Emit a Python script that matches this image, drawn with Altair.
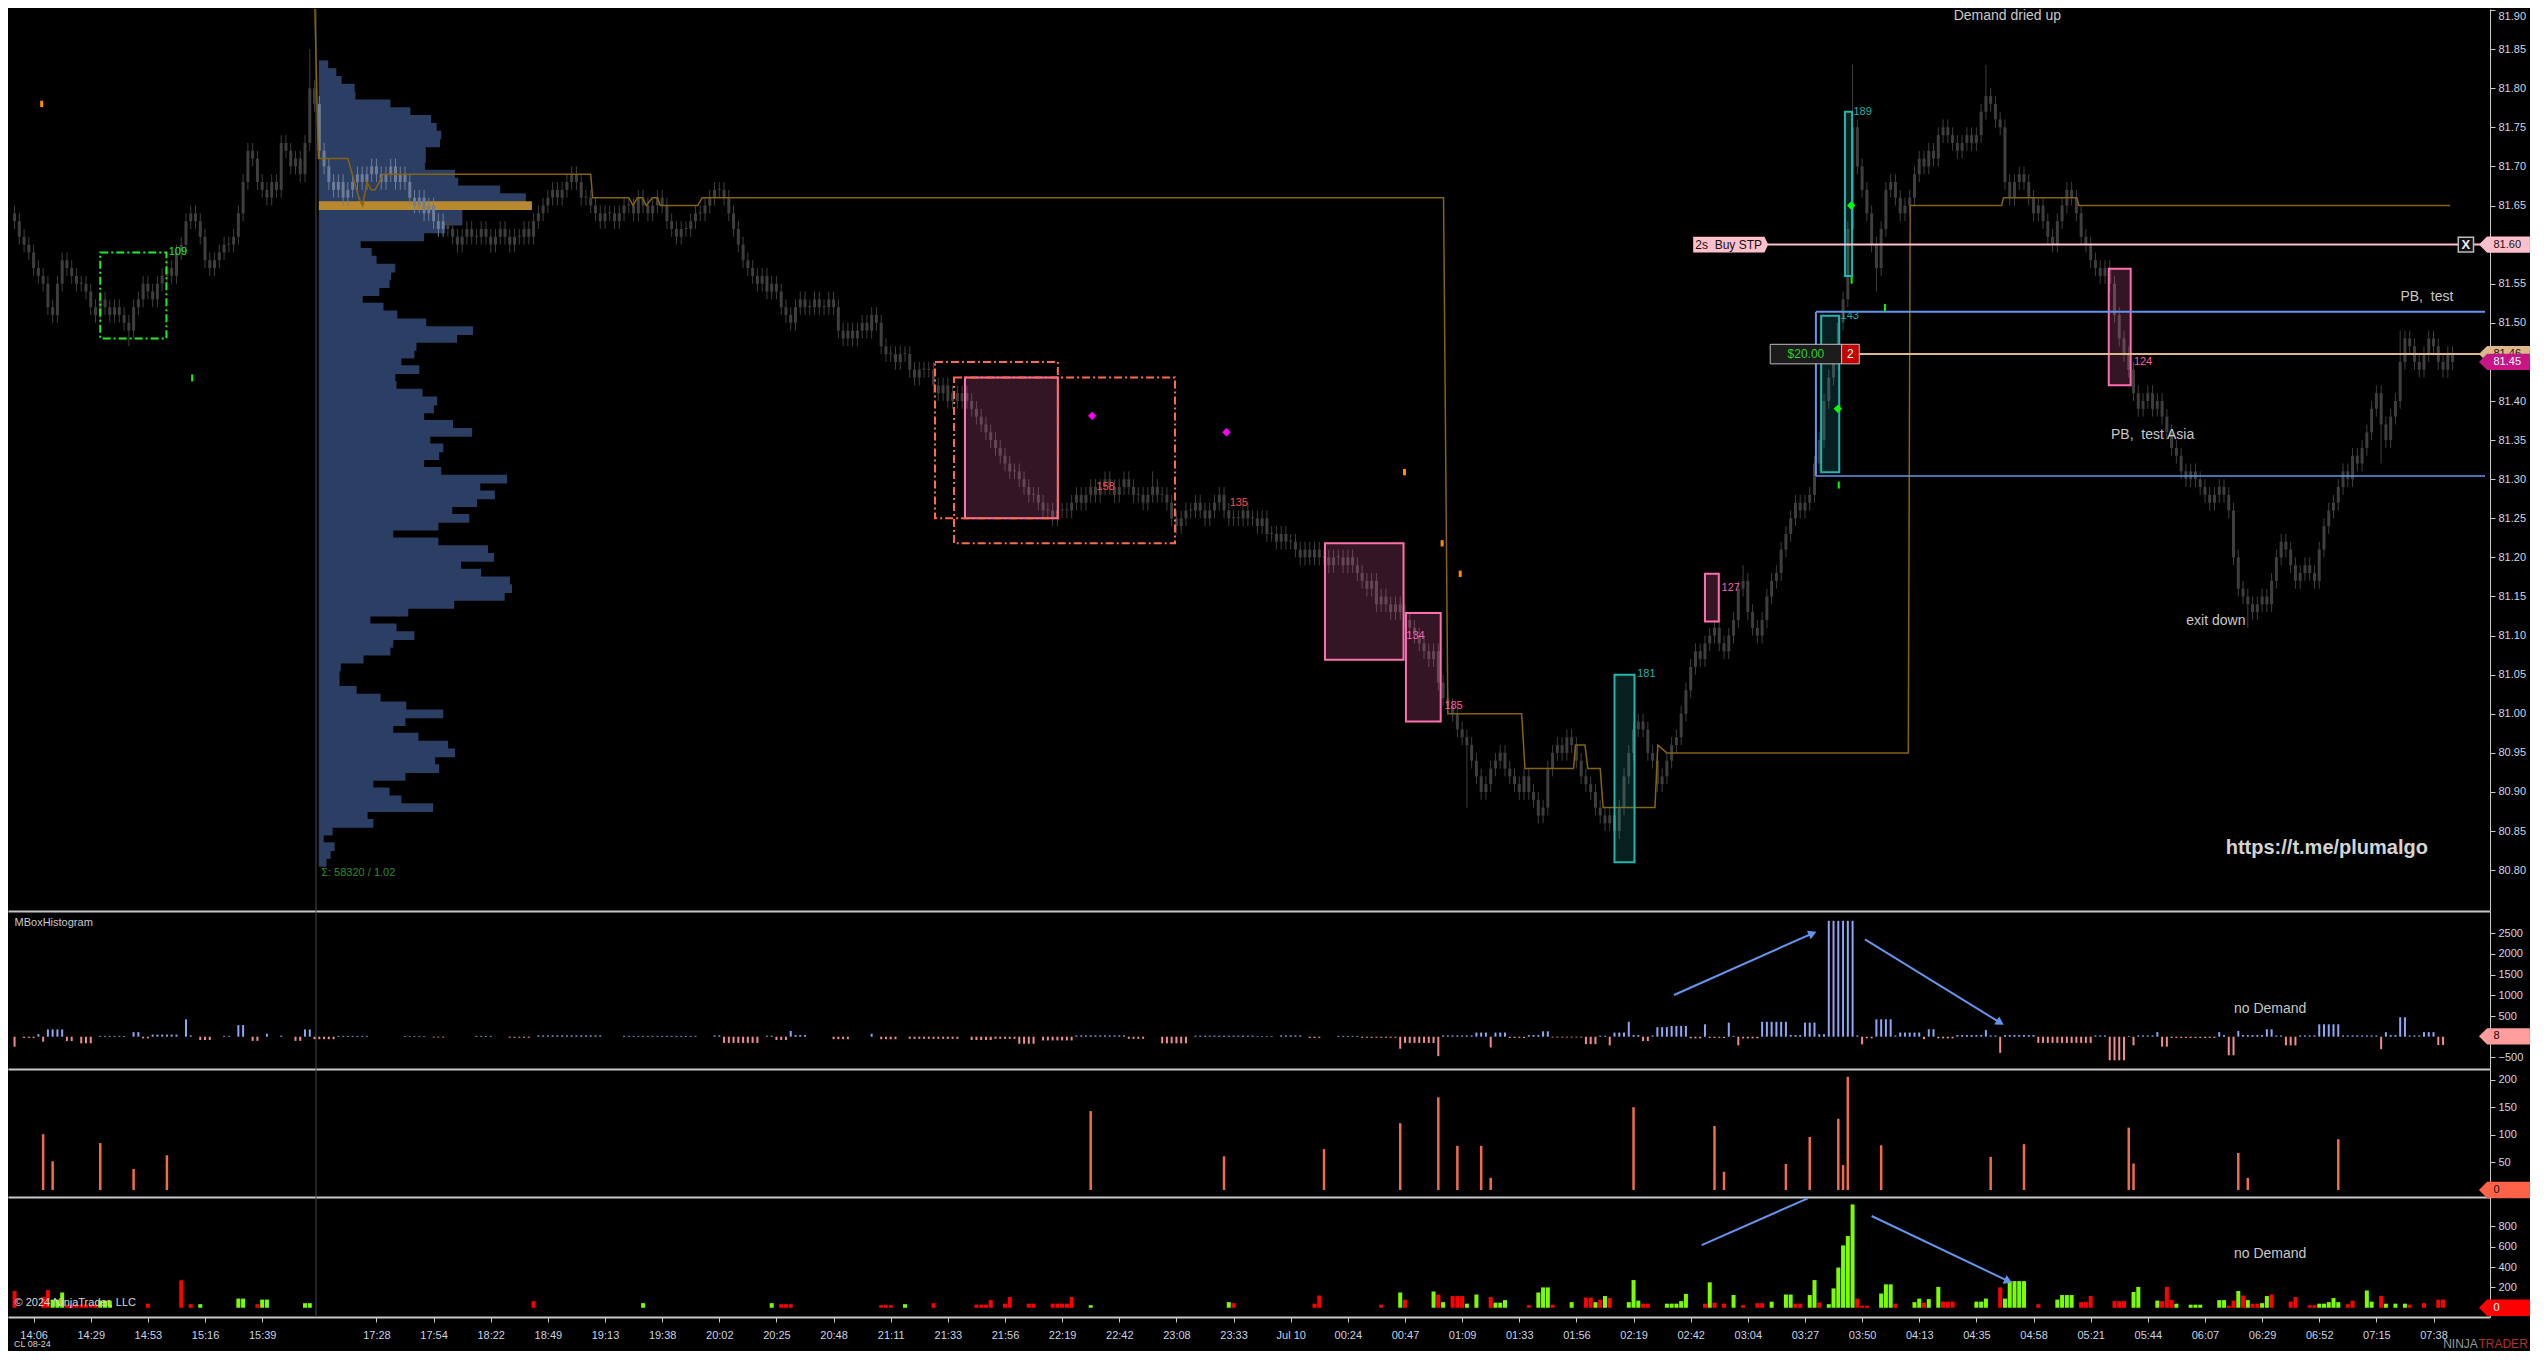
import math
import altair as alt
import pandas as pd

# ======================= DATA =======================
FIRST_BAR = 2  # bar index of the first candle
# closing prices in cents (8163 = 81.63), one per bar
closes = [
 8163, 8161, 8160, 8159, 8157, 8156, 8155, 8152,
 8151, 8155, 8158, 8157, 8156, 8155, 8155, 8154, 8152, 8151,
 8153, 8152, 8151, 8152, 8151, 8150, 8149, 8152, 8153, 8155,
 8154, 8153, 8155, 8156, 8157, 8156, 8159, 8160, 8163, 8164,
 8163, 8161, 8158, 8157, 8158, 8159, 8160, 8160, 8161, 8164,
 8168, 8172, 8171, 8168, 8167, 8166, 8168, 8167, 8173, 8172,
 8170, 8171, 8169, 8173, 8180, 8178, 8172, 8170, 8168, 8167,
 8168, 8166, 8167, 8168, 8169, 8168, 8169, 8170, 8169, 8168,
 8169, 8170, 8168, 8169, 8168, 8166, 8165, 8166, 8164, 8165,
 8163, 8162, 8163, 8162, 8161, 8160, 8161, 8162, 8161, 8161,
 8162, 8161, 8160, 8161, 8162, 8161, 8160, 8161, 8161, 8162,
 8161, 8163, 8164, 8165, 8166, 8167, 8166, 8167, 8168, 8169,
 8168, 8166, 8166, 8165, 8164, 8163, 8164, 8164, 8163, 8164,
 8165, 8165, 8164, 8166, 8165, 8164, 8165, 8166, 8165, 8163,
 8162, 8161, 8162, 8162, 8163, 8164, 8164, 8165, 8166, 8167,
 8167, 8166, 8164, 8162, 8160, 8158, 8157, 8156, 8155, 8156,
 8154, 8155, 8154, 8152, 8151, 8150, 8152, 8153, 8152, 8152,
 8153, 8152, 8152, 8153, 8152, 8149, 8148, 8149, 8148, 8149,
 8150, 8149, 8151, 8150, 8147, 8146, 8146, 8145, 8146, 8146,
 8144, 8143, 8144, 8144, 8144, 8142, 8141, 8142, 8140, 8141,
 8140, 8141, 8140, 8139, 8138, 8137, 8136, 8135, 8134, 8133,
 8132, 8131, 8131, 8130, 8129, 8128, 8128, 8127, 8126, 8126,
 8125, 8126, 8126, 8126, 8127, 8128, 8127, 8128, 8129, 8128,
 8129, 8130, 8129, 8128, 8129, 8130, 8129, 8128, 8128, 8127,
 8128, 8129, 8128, 8128, 8127, 8125, 8124, 8125, 8126, 8126,
 8127, 8126, 8125, 8126, 8127, 8128, 8126, 8125, 8125, 8125,
 8126, 8125, 8125, 8124, 8125, 8123, 8123, 8122, 8123, 8122,
 8122, 8121, 8120, 8121, 8120, 8121, 8120, 8120, 8119, 8120,
 8120, 8119, 8120, 8119, 8118, 8117, 8116, 8117, 8114, 8115,
 8114, 8113, 8114, 8113, 8112, 8111, 8110, 8109, 8108, 8107,
 8108, 8104, 8102, 8101, 8100, 8098, 8097, 8096, 8094, 8092,
 8090, 8091, 8093, 8094, 8095, 8093, 8092, 8091, 8090, 8092,
 8090, 8089, 8087, 8088, 8093, 8095, 8096, 8095, 8097, 8096,
 8094, 8092, 8091, 8090, 8088, 8087, 8086, 8087, 8085, 8088,
 8092, 8095, 8098, 8099, 8098, 8095, 8094, 8091, 8092, 8094,
 8096, 8097, 8100, 8103, 8106, 8108, 8107, 8109, 8110, 8111,
 8109, 8108, 8110, 8112, 8116, 8117, 8113, 8111, 8110, 8112,
 8115, 8117, 8118, 8121, 8123, 8125, 8127, 8126, 8127, 8128,
 8132, 8135, 8140, 8143, 8145, 8150, 8153, 8162, 8175, 8170,
 8167, 8164, 8160, 8157, 8162, 8167, 8168, 8166, 8164, 8165,
 8166, 8169, 8171, 8170, 8172, 8171, 8174, 8175, 8174, 8173,
 8172, 8173, 8174, 8173, 8174, 8177, 8179, 8178, 8176, 8175,
 8168, 8166, 8168, 8169, 8168, 8166, 8164, 8165, 8163, 8161,
 8160, 8163, 8165, 8167, 8166, 8164, 8161, 8160, 8158, 8157,
 8156, 8157, 8155, 8151, 8148, 8146, 8144, 8141, 8139, 8140,
 8141, 8139, 8140, 8138, 8136, 8134, 8133, 8131, 8130, 8131,
 8130, 8129, 8128, 8127, 8128, 8129, 8128, 8126, 8120, 8116,
 8115, 8114, 8113, 8114, 8115, 8114, 8117, 8120, 8122, 8121,
 8119, 8117, 8118, 8119, 8118, 8117, 8121, 8124, 8126, 8127,
 8129, 8131, 8130, 8133, 8132, 8134, 8136, 8139, 8141, 8137,
 8135, 8138, 8140, 8145, 8148, 8147, 8145, 8144, 8146, 8148,
 8147, 8145, 8144, 8146, 8145,
]
spike_highs = {64: 8185, 241: 8131, 365: 8119, 388: 8183, 416: 8183, 503: 8149}
spike_lows = {26: 8147, 307: 8088, 338: 8083, 393: 8154, 471: 8111, 499: 8132}

tick_bars = [6, 18, 30, 42, 54, 78, 90, 102, 114, 126, 138, 150, 162, 174, 186, 198,
             210, 222, 234, 246, 258, 270, 282, 294, 306, 318, 330, 342, 354, 366, 378,
             390, 402, 414, 426, 438, 450, 462, 474, 486, 498, 510]
tick_labels = ["14:06", "14:29", "14:53", "15:16", "15:39", "17:28", "17:54", "18:22",
               "18:49", "19:13", "19:38", "20:02", "20:25", "20:48", "21:11", "21:33",
               "21:56", "22:19", "22:42", "23:08", "23:33", "Jul 10", "00:24", "00:47",
               "01:09", "01:33", "01:56", "02:19", "02:42", "03:04", "03:27", "03:50",
               "04:13", "04:35", "04:58", "05:21", "05:44", "06:07", "06:29", "06:52",
               "07:15", "07:38"]
price_ticks = [80.80, 80.85, 80.90, 80.95, 81.00, 81.05, 81.10, 81.15, 81.20, 81.25, 81.30,
               81.35, 81.40, 81.45, 81.50, 81.55, 81.60, 81.65, 81.70, 81.75, 81.80, 81.85, 81.90]
mbox_ticks = [-500, 500, 1000, 1500, 2000, 2500]
p3_ticks = [50, 100, 150, 200]
vol_ticks = [200, 400, 600, 800]

# volume profile: top level (cents) and volume per 1-cent level going down
profile_top = 8183
profile_vol = [23, 43, 56, 88, 90, 176, 225, 276, 290, 301, 298, 263, 263, 261, 335, 343,
               446, 509, 524, 353, 353, 311, 259, 103, 130, 142, 188, 178, 174, 149, 108,
               159, 193, 264, 379, 340, 240, 235, 203, 247, 188, 191, 255, 291, 283, 259,
               330, 377, 274, 306, 296, 259, 301, 463, 397, 433, 389, 328, 370, 294, 183,
               294, 416, 431, 350, 399, 470, 475, 457, 333, 220, 127, 191, 235, 183, 176,
               110, 54, 51, 51, 93, 152, 215, 306, 213, 183, 245, 318, 335, 286, 296, 213,
               134, 174, 203, 281, 120, 134, 34, 12, 39, 29, 19]
poc_level = 8165
profile_start = 65.9
session_bar = 65.3

# step line (bar, cents)
vwap_i = [65.0, 65.8, 72.0, 74.3, 75.1, 76.0, 76.9, 77.7, 78.6, 79.4, 123.0, 123.4, 131.0,
          131.9, 132.8, 133.8, 134.7, 135.9, 137.0, 137.6, 145.5, 146.4, 302.1, 303.0,
          318.5, 319.2, 329.4, 329.8, 331.8, 332.4, 335.0, 335.6, 346.5, 347.1, 349.0,
          399.7, 400.1, 419.3, 419.7, 435.1, 435.5, 513.5]
vwap_c = [8192, 8171, 8171, 8166, 8165, 8168, 8167, 8167, 8168, 8169, 8169, 8166, 8166,
          8165, 8166, 8166, 8165, 8166, 8166, 8165, 8165, 8166, 8166, 8100, 8100, 8093,
          8093, 8096, 8096, 8093, 8093, 8088, 8088, 8096, 8095, 8095, 8165, 8165, 8166,
          8166, 8165, 8165]

# boxes: (bar from, bar to, low cents, high cents)
green_boxes = [(20.0, 33.9, 8148.0, 8159.0)]
orange_boxes = [(195.3, 221.1, 8125.0, 8145.0), (199.3, 245.7, 8121.8, 8143.0)]
pink_boxes = [(201.6, 221.1, 8125.0, 8143.0), (277.2, 293.7, 8106.9, 8121.8),
              (294.2, 301.5, 8099.0, 8112.9), (357.0, 359.9, 8111.8, 8117.9),
              (441.8, 446.4, 8142.0, 8156.9)]
teal_boxes = [(338.0, 342.2, 8081.0, 8105.0), (381.4, 385.2, 8130.9, 8150.9),
              (386.4, 387.9, 8156.0, 8177.0)]
blue_range = (380.3, 8130.4, 8151.4)  # start bar, low, high

box_label_text = ["109", "158", "135", "134", "185", "127", "181", "143", "189", "124"]
box_label_bar = [36.3, 231.1, 259.1, 296.2, 304.2, 362.4, 344.7, 387.4, 390.1, 449.0]
box_label_c = [8159.0, 8129.0, 8127.0, 8110.0, 8101.0, 8116.1, 8105.1, 8150.9, 8177.0, 8145.0]
box_label_col = ["#22ee22", "#ff4a4a", "#ff4a4a", "#ff5fa8", "#ff5fa8", "#ff5fa8",
                 "#20b2aa", "#20b2aa", "#20b2aa", "#ff5fa8"]

mag_diamonds = [(228.3, 8138.1), (256.5, 8136.0)]
green_diamonds = [(387.7, 8165.0), (384.9, 8139.0)]
green_ticks = [(39.3, 8142.5), (387.8, 8155.0), (385.1, 8128.8), (394.8, 8151.5)]
orange_ticks = [(7.7, 8177.6), (293.9, 8130.5), (301.8, 8121.4), (305.6, 8117.5)]

order_stop_c = 8160.0      # "2s Buy STP"
order_stop_bar = 362.4
position_c = 8146.0        # entry line
position_bar = 378.2
close_box_bar = 516.8

notes = [("PB,\u00a0 test Asia", 451.0, 8135.6), ("PB,\u00a0 test", 508.6, 8153.3),
         ("exit down", 464.3, 8111.9)]

# MBoxHistogram runs: (first bar, last bar, value)
mbox_runs = [
 (2, 2, -240), (4, 6, -30), (7, 7, 60), (8, 8, -120), (9, 12, 175), (13, 14, -105),
 (16, 18, -160), (20, 25, 20), (27, 28, 110), (29, 30, -40), (31, 36, 50), (38, 38, 420),
 (39, 39, 30), (41, 43, -80), (46, 47, 20), (49, 50, 280), (52, 53, -100), (55, 55, 70),
 (58, 58, 25), (61, 62, -100), (63, 64, 175), (65, 69, -60), (70, 76, 20), (84, 88, 15),
 (90, 92, -20), (99, 102, 20), (106, 110, -25), (112, 125, 30), (130, 145, 20),
 (149, 150, 30), (151, 158, -150), (160, 161, 25), (162, 164, -80), (165, 165, 140),
 (166, 168, 40), (174, 177, -60), (182, 182, 70), (184, 187, -60), (190, 200, -50),
 (203, 207, -80), (208, 212, -50), (213, 216, -170), (218, 224, -90), (225, 235, 30),
 (236, 239, -50), (243, 248, -160), (250, 262, 25), (263, 266, 15), (268, 272, 30),
 (274, 276, -30), (280, 284, 20), (285, 292, -25), (293, 293, -290), (294, 300, -150),
 (301, 301, -470), (302, 308, 30), (309, 311, 100), (312, 312, -260), (313, 315, 100),
 (316, 319, -30), (320, 322, 40), (323, 324, 130), (325, 331, -20), (332, 334, -180),
 (335, 336, 25), (337, 337, -210), (338, 340, 100), (341, 341, 360), (342, 343, 40),
 (344, 345, -105), (346, 346, 30), (347, 349, 230), (350, 353, 260), (354, 356, -40),
 (357, 357, 300), (358, 361, -30), (362, 362, 340), (363, 363, 20), (364, 364, -210),
 (365, 368, -40), (369, 374, 360), (375, 377, 40), (378, 380, 340), (381, 382, 60),
 (383, 388, 2800), (389, 389, 30), (390, 390, -185), (391, 392, -40), (393, 396, 420),
 (397, 397, 30), (398, 402, 100), (403, 403, -60), (404, 405, 180), (406, 409, -40),
 (410, 415, 40), (416, 416, 160), (417, 418, 30), (419, 419, -390), (420, 426, 40),
 (427, 438, -150), (439, 441, 30), (442, 445, -570), (446, 446, 20), (447, 447, -210),
 (448, 451, 30), (452, 452, 110), (453, 454, -240), (455, 464, -30), (465, 465, 110),
 (466, 466, 40), (467, 468, -450), (469, 469, 140), (470, 474, 40), (475, 476, 180),
 (477, 478, 30), (479, 481, -210), (482, 485, 30), (486, 490, 300), (491, 498, 30),
 (499, 499, -300), (500, 500, 110), (501, 502, 40), (503, 504, 470), (505, 507, 30),
 (508, 510, 110), (511, 512, -200),
]

# third panel: (bar, value)
p3_bar = [8, 10, 20, 27, 34, 228, 256, 277, 293, 301, 305, 310, 312, 342, 359, 361, 374,
          379, 385, 386, 387, 394, 417, 424, 446, 447, 469, 471, 490]
p3_val = [101, 52, 85, 38, 63, 143, 61, 74, 121, 168, 80, 80, 22, 150, 116, 33, 47, 96,
          129, 45, 205, 81, 60, 83, 113, 48, 67, 22, 92]

# volume panel runs: (first bar, last bar, value, up?)
vol_runs = [
 (2, 2, 164, 0), (8, 8, 105, 0), (9, 9, 173, 0), (10, 11, 80, 1), (12, 12, 150, 1),
 (13, 19, 30, 0), (20, 22, 70, 1), (30, 30, 40, 0), (37, 37, 270, 0), (39, 39, 35, 0),
 (41, 41, 35, 1), (49, 50, 90, 1), (53, 53, 35, 0), (54, 55, 80, 1), (63, 64, 45, 1),
 (111, 111, 65, 0), (134, 134, 45, 1), (161, 161, 45, 1), (163, 165, 35, 0),
 (184, 186, 25, 0), (189, 189, 35, 1), (195, 195, 45, 0), (204, 206, 30, 0),
 (207, 207, 75, 0), (210, 210, 40, 0), (211, 211, 105, 0), (215, 216, 40, 0),
 (220, 223, 40, 0), (224, 224, 105, 0), (228, 228, 25, 1), (257, 257, 55, 1),
 (258, 258, 45, 0), (275, 275, 40, 0), (276, 276, 120, 0), (289, 289, 30, 0),
 (293, 293, 150, 1), (294, 294, 80, 0), (300, 300, 160, 1), (301, 301, 130, 0),
 (302, 302, 55, 1), (304, 306, 115, 0), (307, 307, 40, 1), (309, 309, 130, 1),
 (312, 312, 105, 0), (313, 314, 50, 1), (315, 315, 75, 1), (320, 320, 25, 0),
 (322, 322, 150, 1), (323, 324, 200, 1), (325, 325, 30, 0), (329, 329, 55, 1),
 (332, 333, 100, 0), (334, 334, 55, 1), (335, 335, 80, 0), (336, 336, 115, 1),
 (337, 337, 95, 0), (341, 341, 55, 1), (342, 342, 272, 1), (343, 343, 70, 1),
 (344, 345, 40, 0), (349, 351, 40, 1), (352, 352, 65, 1), (353, 353, 135, 1),
 (357, 357, 40, 0), (358, 358, 250, 1), (359, 359, 50, 0), (361, 361, 40, 0),
 (363, 363, 125, 1), (365, 365, 25, 0), (368, 369, 45, 0), (371, 371, 60, 1),
 (374, 375, 130, 1), (376, 377, 40, 0), (379, 379, 125, 1), (380, 380, 272, 1),
 (381, 381, 50, 0), (383, 383, 35, 1), (384, 384, 190, 1), (385, 385, 395, 1),
 (386, 386, 613, 1), (387, 387, 705, 1), (388, 388, 1016, 1), (389, 389, 90, 0),
 (390, 391, 20, 0), (394, 394, 140, 1), (395, 396, 230, 1), (397, 397, 40, 0),
 (401, 401, 55, 1), (402, 402, 90, 1), (403, 403, 50, 0), (404, 404, 85, 1),
 (406, 406, 205, 1), (407, 409, 60, 0), (414, 415, 60, 1), (416, 416, 90, 1),
 (419, 419, 200, 0), (420, 420, 90, 1), (421, 424, 262, 1), (427, 427, 35, 0),
 (431, 431, 80, 1), (432, 434, 125, 1), (436, 437, 55, 0), (438, 438, 115, 0),
 (443, 445, 65, 0), (447, 447, 155, 1), (448, 448, 205, 1), (452, 452, 70, 1),
 (453, 453, 65, 0), (454, 454, 205, 0), (455, 455, 75, 0), (456, 456, 40, 1),
 (459, 461, 30, 1), (465, 466, 75, 1), (467, 467, 20, 0), (468, 468, 70, 0),
 (469, 469, 165, 1), (470, 470, 120, 0), (471, 471, 75, 1), (472, 473, 40, 0),
 (474, 474, 45, 1), (475, 475, 115, 1), (476, 476, 130, 0), (480, 480, 60, 0),
 (481, 481, 105, 0), (484, 485, 25, 0), (486, 487, 40, 1), (488, 488, 55, 1),
 (489, 489, 95, 1), (490, 490, 55, 1), (492, 492, 35, 0), (493, 493, 70, 0),
 (496, 496, 170, 1), (497, 497, 60, 1), (499, 499, 115, 0), (500, 500, 40, 1),
 (502, 502, 40, 1), (504, 504, 40, 1), (505, 505, 30, 0), (508, 508, 45, 0),
 (511, 512, 80, 0),
]

# arrows: (bar start, value start, bar end, value end)
mbox_arrows = [(350.5, 1007, 379.6, 2497), (390.6, 2352, 419.0, 338)]
vol_arrows = [(356.3, 616, 378.6, 1076), (392.0, 902, 420.7, 262)]
vol_arrow_heads = [False, True]

# ======================= LAYOUT / STYLE =======================
FONT = "Liberation Sans"
NARROW = "Liberation Sans Narrow, Liberation Sans, Arial"
AX = "#c8c8c8"
LBL = "#d0d6e2"
BAR_PX = 4.781
PLOT_W = 2482
H1, H2, H3, H4 = 902, 158, 128, 120
X0 = 8 / BAR_PX
X1 = X0 + PLOT_W / BAR_PX
XS = alt.Scale(domain=[X0, X1], nice=False, zero=False)
FLAG_BAR = 524.9
FLAG_PATH = "M-1,0L-0.68,-0.32L1,-0.32L1,0.32L-0.68,0.32Z"

def sep_axis():
    return alt.Axis(labels=False, ticks=False, domain=True, domainColor=AX,
                    domainWidth=2, grid=False, title=None)

labels_js = "[" + ",".join("'%s'" % s for s in tick_labels) + "]"
bars_js = "[" + ",".join(str(b) for b in tick_bars) + "]"
time_axis = alt.Axis(values=tick_bars, labelExpr=f"{labels_js}[indexof({bars_js}, datum.value)]",
                     ticks=True, tickSize=5, tickColor=AX, domain=True, domainColor=AX,
                     domainWidth=2, labelColor="#c8d2e6", labelFont=NARROW, labelFontSize=11,
                     labelPadding=7, labelOverlap=False, labelFlush=False, grid=False, title=None)

def yaxis(values, fmt):
    return alt.Axis(orient="right", values=values, format=fmt, grid=False, domain=True,
                    domainColor=AX, domainWidth=1, ticks=True, tickColor=AX, tickSize=5,
                    labelColor=LBL, labelFont=FONT, labelFontSize=11, labelPadding=3,
                    labelOverlap=False, labelFlush=4, title=None)

P1 = dict(xa=sep_axis(), ys=alt.Scale(domain=[80.7478, 81.9013], nice=False, zero=False),
          ya=yaxis(price_ticks, ".2f"))
P2 = dict(xa=sep_axis(), ys=alt.Scale(domain=[-780, 3036], nice=False, zero=False),
          ya=yaxis(mbox_ticks, "d"))
P3 = dict(xa=sep_axis(), ys=alt.Scale(domain=[-12.7, 219.2], nice=False, zero=False),
          ya=yaxis(p3_ticks, "d"))
P4 = dict(xa=time_axis, ys=alt.Scale(domain=[-91, 1089], nice=False, zero=False),
          ya=yaxis(vol_ticks, "d"))

def X(P, f):
    return alt.X(f"{f}:Q", scale=XS, axis=P["xa"], title=None)

def Y(P, f):
    return alt.Y(f"{f}:Q", scale=P["ys"], axis=P["ya"], title=None)

def session_rule(P):
    return alt.Chart(pd.DataFrame({"i": [session_bar]})).mark_rule(
        color="#4a4a4a", strokeWidth=1).encode(x=X(P, "i"))

def flag(P, value, text, bg, fg):
    d = pd.DataFrame({"i": [FLAG_BAR], "y": [value], "t": [text]})
    s = alt.Chart(d).mark_point(shape=FLAG_PATH, filled=True, size=51 * 51, opacity=1,
                                color=bg, strokeWidth=0).encode(x=X(P, "i"), y=Y(P, "y"))
    t = alt.Chart(d).mark_text(align="left", dx=-11, font=FONT, fontSize=11, color=fg).encode(
        x=X(P, "i"), y=Y(P, "y"), text="t:N")
    return [s, t]

def cents(v):
    return v / 100.0

# ======================= PANEL 1: price =======================
prof_len = {profile_top - k: v for k, v in enumerate(profile_vol)}
crow = []
for k, c in enumerate(closes):
    i = FIRST_BAR + k
    o = closes[k - 1] if k > 0 else c + 1
    hi = spike_highs.get(i, max(o, c) + 1)
    lo = spike_lows.get(i, min(o, c) - 1)
    blo, bhi = min(o, c), max(o, c)
    bhi_d = cents(bhi) if bhi > blo else cents(blo) + 0.0013
    in_prof = profile_start < i < profile_start + prof_len.get(c, 0) / 11.71
    crow.append(dict(i=i, lo=cents(lo), hi=cents(hi), blo=cents(blo), bhi=bhi_d,
                     col="#6f7d98" if in_prof else "#3e3e3e"))
cdf = pd.DataFrame(crow)

prow = []
for k, v in enumerate(profile_vol):
    lvl = profile_top - k
    prow.append(dict(x0=profile_start, x1=profile_start + v / 11.71,
                     y0=cents(lvl - 0.56), y1=cents(lvl + 0.56), poc=(lvl == poc_level)))
pdf = pd.DataFrame(prow)

layers1 = [session_rule(P1)]
layers1.append(alt.Chart(pdf[~pdf.poc]).mark_rect(strokeWidth=0, color="#2b3e63").encode(
    x=X(P1, "x0"), x2="x1:Q", y=Y(P1, "y0"), y2="y1:Q"))
layers1.append(alt.Chart(pdf[pdf.poc]).mark_rect(strokeWidth=0, color="#b8892e").encode(
    x=X(P1, "x0"), x2="x1:Q", y=Y(P1, "y0"), y2="y1:Q"))
layers1.append(alt.Chart(cdf).mark_rule(strokeWidth=1).encode(
    x=X(P1, "i"), y=Y(P1, "lo"), y2="hi:Q", color=alt.Color("col:N", scale=None)))
layers1.append(alt.Chart(cdf).mark_bar(size=3).encode(
    x=X(P1, "i"), y=Y(P1, "blo"), y2="bhi:Q", color=alt.Color("col:N", scale=None)))

vdf = pd.DataFrame({"i": vwap_i, "p": [cents(v) for v in vwap_c], "k": range(len(vwap_i))})
layers1.append(alt.Chart(vdf).mark_line(color="#86630f", strokeWidth=1.5, clip=True).encode(
    x=X(P1, "i"), y=Y(P1, "p"), order="k:Q"))

def boxdf(boxes):
    return pd.DataFrame([dict(x0=a, x1=b, y0=cents(lo), y1=cents(hi)) for a, b, lo, hi in boxes])

layers1.append(alt.Chart(boxdf(pink_boxes)).mark_rect(
    fill="#ff69b4", fillOpacity=0.2, stroke="#ff6fb0", strokeWidth=2).encode(
    x=X(P1, "x0"), x2="x1:Q", y=Y(P1, "y0"), y2="y1:Q"))
layers1.append(alt.Chart(boxdf(teal_boxes)).mark_rect(
    fill="#20b2aa", fillOpacity=0.18, stroke="#22b5ae", strokeWidth=2).encode(
    x=X(P1, "x0"), x2="x1:Q", y=Y(P1, "y0"), y2="y1:Q"))
layers1.append(alt.Chart(boxdf(orange_boxes)).mark_rect(
    fill="#000000", fillOpacity=0, stroke="#ff6a4a", strokeWidth=2,
    strokeDash=[8, 3, 2, 3]).encode(x=X(P1, "x0"), x2="x1:Q", y=Y(P1, "y0"), y2="y1:Q"))
layers1.append(alt.Chart(boxdf(green_boxes)).mark_rect(
    fill="#000000", fillOpacity=0, stroke="#22ee22", strokeWidth=2,
    strokeDash=[8, 3, 2, 3]).encode(x=X(P1, "x0"), x2="x1:Q", y=Y(P1, "y0"), y2="y1:Q"))

# blue range lines
b0, blo_c, bhi_c = blue_range
bl = pd.DataFrame([dict(x0=b0, x1=X1, y=cents(bhi_c), w=2), dict(x0=b0, x1=X1, y=cents(blo_c), w=1.5)])
layers1.append(alt.Chart(bl).mark_rule(color="#6495ed").encode(
    x=X(P1, "x0"), x2="x1:Q", y=Y(P1, "y"), strokeWidth=alt.StrokeWidth("w:Q", scale=None)))
layers1.append(alt.Chart(pd.DataFrame({"x": [b0], "y0": [cents(blo_c)], "y1": [cents(bhi_c)]}))
               .mark_rule(color="#6495ed", strokeWidth=2).encode(
    x=X(P1, "x"), y=Y(P1, "y0"), y2="y1:Q"))

# order lines
layers1.append(alt.Chart(pd.DataFrame({"x0": [order_stop_bar], "x1": [X1], "y": [cents(order_stop_c)]}))
               .mark_rule(color="#ffc0cb", strokeWidth=2).encode(x=X(P1, "x0"), x2="x1:Q", y=Y(P1, "y")))
layers1.append(alt.Chart(pd.DataFrame({"x0": [position_bar], "x1": [X1], "y": [cents(position_c)]}))
               .mark_rule(color="#deb887", strokeWidth=2).encode(x=X(P1, "x0"), x2="x1:Q", y=Y(P1, "y")))

# order label "2s Buy STP"
od = pd.DataFrame({"i": [order_stop_bar], "y": [cents(order_stop_c)], "t": ["2s\u00a0 Buy STP"]})
layers1.append(alt.Chart(od).mark_point(shape="M-1,-0.212L0.9,-0.212L1,0L0.9,0.212L-1,0.212Z",
                                        filled=True, size=75 * 75, opacity=1, color="#ffc0cb",
                                        strokeWidth=0).encode(x=X(P1, "i"), y=Y(P1, "y")))
layers1.append(alt.Chart(od).mark_text(font=NARROW, fontSize=12, color="#111111", dx=-2).encode(
    x=X(P1, "i"), y=Y(P1, "y"), text="t:N"))

# position box "$20.00 | 2"
pos_box = pd.DataFrame([dict(x0=position_bar - 7.5, x1=position_bar + 7.5, f="#1c1c1c"),
                        dict(x0=position_bar + 7.5, x1=position_bar + 11.2, f="#c40000")])
pos_box["y0"] = cents(position_c) - 0.0125
pos_box["y1"] = cents(position_c) + 0.0125
layers1.append(alt.Chart(pos_box).mark_rect(stroke="#bdbdbd", strokeWidth=1).encode(
    x=X(P1, "x0"), x2="x1:Q", y=Y(P1, "y0"), y2="y1:Q", fill=alt.Fill("f:N", scale=None)))
pos_txt = pd.DataFrame([dict(i=position_bar, y=cents(position_c), t="$20.00", c="#2fcf2f"),
                        dict(i=position_bar + 9.35, y=cents(position_c), t="2", c="#ffffff")])
layers1.append(alt.Chart(pos_txt).mark_text(font=NARROW, fontSize=12).encode(
    x=X(P1, "i"), y=Y(P1, "y"), text="t:N", color=alt.Color("c:N", scale=None)))

# close-order box
xb = pd.DataFrame({"x0": [close_box_bar - 1.6], "x1": [close_box_bar + 1.6],
                   "y0": [cents(order_stop_c) - 0.0095], "y1": [cents(order_stop_c) + 0.0095]})
layers1.append(alt.Chart(xb).mark_rect(fill="#111111", stroke="#bbbbbb", strokeWidth=1.5).encode(
    x=X(P1, "x0"), x2="x1:Q", y=Y(P1, "y0"), y2="y1:Q"))
layers1.append(alt.Chart(pd.DataFrame({"i": [close_box_bar], "y": [cents(order_stop_c)], "t": ["X"]}))
               .mark_text(font=FONT, fontSize=13, fontWeight="bold", color="#eeeeee").encode(
    x=X(P1, "i"), y=Y(P1, "y"), text="t:N"))

# markers
def pts(lst):
    return pd.DataFrame({"i": [a for a, b in lst], "y": [cents(b) for a, b in lst]})

layers1.append(alt.Chart(pts(mag_diamonds)).mark_point(shape="diamond", filled=True, size=70,
                                                       color="#ff00ff", opacity=1).encode(
    x=X(P1, "i"), y=Y(P1, "y")))
layers1.append(alt.Chart(pts(green_diamonds)).mark_point(shape="diamond", filled=True, size=70,
                                                         color="#00ff00", opacity=1).encode(
    x=X(P1, "i"), y=Y(P1, "y")))
gt = pts(green_ticks)
gt["y2"] = gt["y"] + 0.009
layers1.append(alt.Chart(gt).mark_rule(color="#00ff00", strokeWidth=2).encode(
    x=X(P1, "i"), y=Y(P1, "y"), y2="y2:Q"))
ot = pts(orange_ticks)
ot["y2"] = ot["y"] + 0.008
layers1.append(alt.Chart(ot).mark_rule(color="#ff8c00", strokeWidth=3).encode(
    x=X(P1, "i"), y=Y(P1, "y"), y2="y2:Q"))

# box labels
bld = pd.DataFrame({"i": box_label_bar, "y": [cents(v) for v in box_label_c],
                    "t": box_label_text, "c": box_label_col})
layers1.append(alt.Chart(bld).mark_text(font=FONT, fontSize=11).encode(
    x=X(P1, "i"), y=Y(P1, "y"), text="t:N", color=alt.Color("c:N", scale=None)))

# annotations
nd = pd.DataFrame({"i": [n[1] for n in notes], "y": [cents(n[2]) for n in notes],
                   "t": [n[0] for n in notes]})
layers1.append(alt.Chart(nd).mark_text(font=FONT, fontSize=14, color="#c8c8c8").encode(
    x=X(P1, "i"), y=Y(P1, "y"), text="t:N"))
layers1.append(alt.Chart(pd.DataFrame({"i": [420.5], "y": [81.9013], "t": ["Demand dried up"]}))
               .mark_text(font=FONT, fontSize=14, color="#c8c8c8", baseline="top").encode(
    x=X(P1, "i"), y=Y(P1, "y"), text="t:N"))
layers1.append(alt.Chart(pd.DataFrame({"i": [487.6], "y": [80.828], "t": ["https://t.me/plumalgo"]}))
               .mark_text(font=FONT, fontSize=20, fontWeight="bold", color="#d4d4d4").encode(
    x=X(P1, "i"), y=Y(P1, "y"), text="t:N"))
layers1.append(alt.Chart(pd.DataFrame({"i": [66.4], "y": [80.796], "t": ["Σ: 58320 / 1.02"]}))
               .mark_text(font=FONT, fontSize=11, color="#2a8f2a", align="left").encode(
    x=X(P1, "i"), y=Y(P1, "y"), text="t:N"))

layers1 += flag(P1, 81.60, "81.60", "#ffc0cb", "#111111")
layers1 += flag(P1, 81.46, "81.46", "#deb887", "#111111")
layers1 += flag(P1, 81.45, "81.45", "#c71585", "#ffffff")

p1 = alt.layer(*layers1).properties(width=PLOT_W, height=H1)

# ======================= PANEL 2: MBoxHistogram =======================
mrow = []
for a, b, v in mbox_runs:
    for i in range(a, b + 1):
        mrow.append(dict(i=i, v=v, z=0, c="#8ea6f5" if v > 0 else "#f28c8c"))
mdf = pd.DataFrame(mrow)

def arrow_layers(P, arrows, heads, k_y):
    out = []
    ad = pd.DataFrame([dict(x0=a, y0=b, x1=c, y1=d) for a, b, c, d in arrows])
    out.append(alt.Chart(ad).mark_rule(color="#6495ed", strokeWidth=2).encode(
        x=X(P, "x0"), x2="x1:Q", y=Y(P, "y0"), y2="y1:Q"))
    hd = []
    for (a, b, c, d), h in zip(arrows, heads):
        if h:
            ang = math.degrees(math.atan2((c - a) * BAR_PX, (d - b) * k_y)) % 360
            hd.append(dict(x=c, y=d, a=ang))
    if hd:
        out.append(alt.Chart(pd.DataFrame(hd)).mark_point(shape="triangle-up", filled=True,
                                                          size=90, color="#6495ed", opacity=1).encode(
            x=X(P, "x"), y=Y(P, "y"), angle=alt.Angle("a:Q", scale=None)))
    return out

layers2 = [session_rule(P2)]
layers2.append(alt.Chart(mdf).mark_bar(size=2).encode(
    x=X(P2, "i"), y=Y(P2, "v"), y2="z:Q", color=alt.Color("c:N", scale=None)))
layers2 += arrow_layers(P2, mbox_arrows, [True, True], H2 / 3816)
layers2.append(alt.Chart(pd.DataFrame({"i": [475.7], "y": [669], "t": ["no Demand"]}))
               .mark_text(font=NARROW, fontSize=14, color="#c8c8c8").encode(
    x=X(P2, "i"), y=Y(P2, "y"), text="t:N"))
layers2.append(alt.Chart(pd.DataFrame({"i": [2.0], "y": [2746], "t": ["MBoxHistogram"]}))
               .mark_text(font=NARROW, fontSize=11, color="#c8c8c8", align="left").encode(
    x=X(P2, "i"), y=Y(P2, "y"), text="t:N"))
layers2 += flag(P2, 8, "8", "#ff9c9c", "#220000")
p2 = alt.layer(*layers2).properties(width=PLOT_W, height=H2)

# ======================= PANEL 3 =======================
d3 = pd.DataFrame({"i": p3_bar, "v": p3_val, "z": 0})
layers3 = [session_rule(P3)]
layers3.append(alt.Chart(d3).mark_bar(size=2.5, color="#f26b4b").encode(
    x=X(P3, "i"), y=Y(P3, "v"), y2="z:Q"))
layers3 += flag(P3, 0, "0", "#ff6347", "#111111")
p3 = alt.layer(*layers3).properties(width=PLOT_W, height=H3)

# ======================= PANEL 4: volume =======================
vrow = []
for a, b, v, up in vol_runs:
    for i in range(a, b + 1):
        vrow.append(dict(i=i, v=v, z=0, c="#7cfc00" if up else "#ff0000"))
vdf4 = pd.DataFrame(vrow)
layers4 = [session_rule(P4)]
layers4.append(alt.Chart(vdf4).mark_bar(size=4).encode(
    x=X(P4, "i"), y=Y(P4, "v"), y2="z:Q", color=alt.Color("c:N", scale=None)))
layers4 += arrow_layers(P4, vol_arrows, vol_arrow_heads, H4 / 1180)
layers4.append(alt.Chart(pd.DataFrame({"i": [475.7], "y": [525], "t": ["no Demand"]}))
               .mark_text(font=NARROW, fontSize=14, color="#c8c8c8").encode(
    x=X(P4, "i"), y=Y(P4, "y"), text="t:N"))
layers4.append(alt.Chart(pd.DataFrame({"i": [2.0], "y": [46], "t": ["© 2024 NinjaTrader, LLC"]}))
               .mark_text(font=NARROW, fontSize=11, color="#d8d8d8", align="left").encode(
    x=X(P4, "i"), y=Y(P4, "y"), text="t:N"))
layers4.append(alt.Chart(pd.DataFrame({"i": [1.9], "y": [-357], "t": ["CL 08-24"]}))
               .mark_text(font=NARROW, fontSize=9, color="#d0d0d0", align="left").encode(
    x=X(P4, "i"), y=Y(P4, "y"), text="t:N"))
layers4.append(alt.Chart(pd.DataFrame({"i": [529.8], "y": [-357], "t": ["TRADER"]}))
               .mark_text(font=FONT, fontSize=12, color="#b0302a", align="right").encode(
    x=X(P4, "i"), y=Y(P4, "y"), text="t:N"))
layers4.append(alt.Chart(pd.DataFrame({"i": [529.8], "y": [-357], "t": ["NINJA"]}))
               .mark_text(font=FONT, fontSize=12, color="#9a9a9a", align="right", dx=-50).encode(
    x=X(P4, "i"), y=Y(P4, "y"), text="t:N"))
layers4 += flag(P4, 0, "0", "#ff0000", "#ffffff")
p4 = alt.layer(*layers4).properties(width=PLOT_W, height=H4)

chart = alt.vconcat(p1, p2, p3, p4, spacing=0, bounds="flush").properties(
    background="#000000", padding=0
).configure_view(stroke=None)

chart.save("out.html", embed_options={"renderer": "svg", "actions": False})
